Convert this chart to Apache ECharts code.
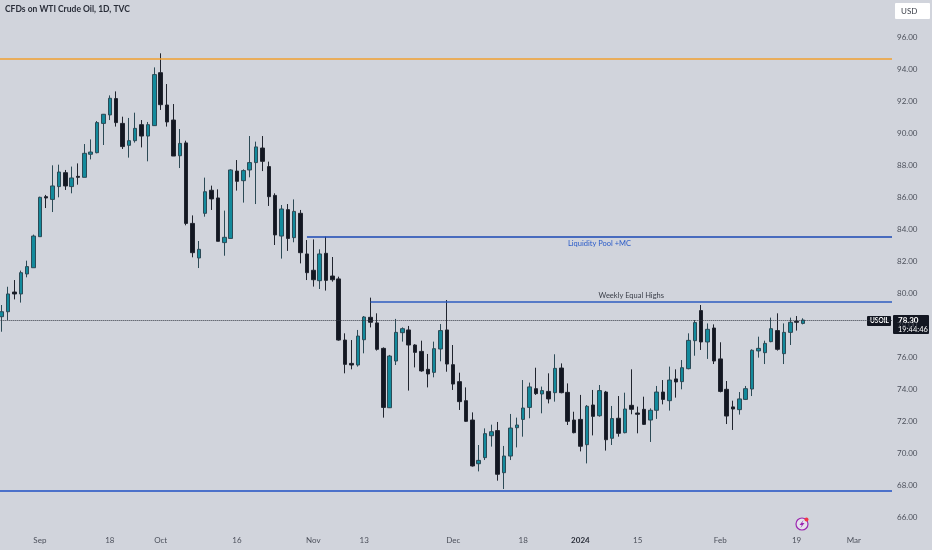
<!DOCTYPE html>
<html>
<head>
<meta charset="utf-8">
<style>html,body{margin:0;padding:0;background:#d1d4dc}#c{width:932px;height:550px}</style>
<script src="https://cdn.jsdelivr.net/npm/echarts@6/dist/echarts.min.js"></script>
</head>
<body>
<div id="c"></div>
<script>
const opens=[78.52,78.83,80.06,79.94,81.19,81.58,83.52,86.02,85.85,86.65,87.52,86.65,87.29,87.23,88.67,88.77,90.60,91.13,92.15,90.60,89.23,89.52,90.52,89.81,90.46,93.77,91.75,90.81,88.58,89.38,84.35,82.19,84.98,86.42,85.94,83.15,83.41,87.62,87.02,87.69,88.15,89.06,87.90,86.10,83.56,85.21,83.46,84.98,82.44,81.42,80.77,82.48,81.06,80.88,77.06,75.60,75.50,77.08,78.48,78.13,76.54,72.83,75.75,77.52,77.69,76.75,76.35,75.23,75.04,76.50,77.69,75.52,74.46,73.27,72.06,69.33,69.71,71.08,71.40,68.77,69.81,71.58,72.10,72.85,74.02,73.69,73.85,73.77,75.31,73.79,72.06,72.10,70.52,73.00,72.33,73.81,70.92,72.17,71.27,72.98,72.50,72.73,72.06,72.67,73.81,73.27,74.63,74.46,75.27,77.02,78.90,76.94,77.81,75.88,73.98,72.88,72.71,73.35,74.00,76.38,76.27,76.96,77.65,76.21,77.54,78.23,78.10];
const closes=[78.83,79.94,79.94,81.27,81.65,83.56,85.98,85.94,86.69,87.56,86.69,87.19,87.23,88.73,88.81,90.65,91.17,92.17,90.65,89.15,89.52,90.29,89.81,90.52,93.65,91.77,90.69,88.56,89.35,84.35,82.52,82.73,86.33,85.88,83.23,83.48,87.69,86.98,87.65,88.15,89.13,88.23,86.02,83.63,85.25,83.41,85.10,82.52,81.27,80.83,82.44,80.79,80.83,77.06,75.54,75.50,77.31,78.50,78.17,76.48,72.85,76.06,77.54,77.77,76.75,76.29,75.13,74.94,76.52,77.65,75.56,74.31,73.21,71.98,69.19,69.54,71.21,71.33,68.67,69.81,71.56,71.75,72.81,74.13,73.71,73.90,73.38,75.29,73.77,71.98,71.27,70.42,72.92,72.29,73.90,70.83,72.15,71.23,72.75,72.73,72.42,71.79,72.67,73.81,73.35,74.56,74.44,75.33,77.04,78.15,76.94,77.73,75.75,73.85,72.31,72.75,73.38,74.02,76.42,76.54,76.85,77.77,76.48,77.54,78.17,78.17,78.31];
const lows=[77.58,78.31,79.60,79.40,80.98,81.58,83.52,85.31,85.06,85.98,86.44,86.23,86.77,87.23,88.35,88.73,89.25,90.81,90.40,89.00,88.46,89.40,89.10,88.23,90.44,91.44,90.40,88.56,87.81,84.23,82.23,81.56,84.77,85.19,83.23,82.33,83.41,86.40,85.65,87.23,85.56,87.62,85.44,83.00,82.15,82.63,83.17,81.85,80.81,80.40,80.25,80.15,80.71,77.02,74.98,75.23,75.40,76.23,77.85,76.40,72.21,72.81,75.50,76.96,73.90,75.35,75.08,74.10,74.73,75.73,75.08,73.94,72.69,71.94,69.15,68.85,69.56,70.40,68.27,67.75,69.56,70.35,71.02,72.17,73.63,72.48,73.10,73.21,73.73,71.75,71.23,70.10,69.35,71.10,72.27,70.15,70.50,71.02,71.23,72.42,71.23,71.75,70.69,72.13,73.04,72.65,73.46,73.98,75.23,76.08,76.44,75.88,75.56,73.79,71.81,71.44,72.40,73.31,73.56,75.96,75.56,76.92,76.40,75.56,76.75,77.65,78.04];
const highs=[79.25,80.39,80.81,81.40,82.02,83.65,86.02,86.13,87.98,88.02,87.69,87.90,88.10,89.31,89.60,90.75,91.19,92.35,92.60,91.02,90.94,91.27,90.81,90.69,94.10,94.98,93.06,91.81,90.25,89.52,84.85,83.25,87.21,86.71,86.48,85.15,87.73,88.31,87.73,89.81,89.46,89.81,88.21,86.23,85.50,85.56,85.85,85.19,83.31,83.35,82.73,83.52,82.25,81.02,77.48,77.06,77.69,78.56,79.71,78.73,76.60,76.13,78.38,77.85,77.94,76.80,77.02,76.19,76.96,78.06,79.56,76.75,75.02,74.10,72.54,70.50,71.54,71.77,71.94,70.44,72.44,72.21,74.56,74.40,75.33,74.15,74.98,76.17,75.60,74.35,72.58,73.63,73.00,73.94,74.25,73.88,72.94,73.56,73.77,75.23,72.90,73.52,72.79,74.19,74.56,75.40,75.23,75.81,77.48,78.31,79.25,78.10,78.04,76.92,74.50,73.27,73.81,74.19,76.48,77.27,77.02,78.46,78.73,78.10,78.46,78.56,78.42];
const xTickSlots=[7,18,26,38,50,58,72,83,92,101,114,126,135];
const xTickLabels=['Sep','18','Oct','16','Nov','13','Dec','18','2024','15','Feb','19','Mar'];
const yMin=66, yMax=96, yStep=2;
const orangeLevel=94.66, lowerLevel=67.66, liquidityLevel=83.53, weeklyLevel=79.47, lastPrice=78.30;
const slotCount=142;

const categories=[];
for(let j=0;j<slotCount;j++){const k=xTickSlots.indexOf(j);categories.push(k>=0?xTickLabels[k]:'');}
const blank=['-','-','-','-'];
const candles=[blank];
for(let i=0;i<opens.length;i++)candles.push([opens[i],closes[i],lows[i],highs[i]]);
while(candles.length<slotCount)candles.push(blank);
const seg=(a,b,v,color,width,type)=>[{coord:[a,v],lineStyle:{color,width,type:type||'solid',opacity:1}},{coord:[b,v]}];
const fnt='Lato,"Open Sans",sans-serif';
const chart=echarts.init(document.getElementById('c'),null,{renderer:'canvas'});
chart.setOption({
  animation:false,backgroundColor:'#d1d4dc',
  grid:{left:-4.66,width:896.66,top:37,bottom:33,containLabel:false,outerBoundsMode:'none'},
  xAxis:{type:'category',data:categories,boundaryGap:false,axisLine:{show:false},axisTick:{show:false},splitLine:{show:false},
    axisLabel:{interval:0,hideOverlap:false,margin:19,fontSize:8,fontFamily:fnt,color:'#4c505b',
      formatter:v=>v==='2024'?'{b|2024}':v,rich:{b:{fontWeight:700,fontSize:8,fontFamily:fnt,color:'#2a2e39'}}}},
  yAxis:{type:'value',position:'right',min:yMin,max:yMax,interval:yStep,axisLine:{show:false},axisTick:{show:false},splitLine:{show:false},
    axisLabel:{margin:5,fontSize:8,fontFamily:fnt,color:'#4c505b',formatter:v=>v.toFixed(2)}},
  series:[{type:'candlestick',data:candles,barWidth:4,clip:true,
    itemStyle:{color:'#138a9c',color0:'#131722',borderColor:'#2c4a56',borderColor0:'#20242e',borderWidth:1},
    markLine:{silent:true,symbol:'none',label:{show:false},animation:false,data:[
      seg(0,slotCount-1,orangeLevel,'#f0a030',1.5),
      seg(0,slotCount-1,lowerLevel,'#1f50c4',1.5),
      seg(49,slotCount-1,liquidityLevel,'#1a48b4',1.5),
      seg(59,slotCount-1,weeklyLevel,'#2c5cc0',1.5),
      seg(0,slotCount-1,lastPrice,'#333842',1,[1,1])
    ]},
    markPoint:{silent:true,symbol:'circle',symbolSize:0,animation:false,data:[
      {coord:[94.9,83.12],value:83.12,label:{show:true,position:'inside',formatter:'Liquidity Pool +MC',fontSize:7.5,fontFamily:fnt,color:'#2a5bc8'}},
      {coord:[100,79.81],value:79.81,label:{show:true,position:'inside',formatter:'Weekly Equal Highs',fontSize:7.5,fontFamily:fnt,color:'#3a3e48'}}
    ]}
  }],
  graphic:[
    {type:'text',left:5,top:5,style:{text:'CFDs on WTI Crude Oil, 1D, TVC',font:'700 8.5px '+fnt,fill:'#2a2e39'}},
    {type:'rect',shape:{x:895,y:3,width:35,height:16,r:1},style:{fill:'#ffffff'}},
    {type:'text',left:901,top:7,style:{text:'USD',font:'8px '+fnt,fill:'#3a3e48'}},
    {type:'rect',shape:{x:867,y:316,width:24,height:10,r:1},style:{fill:'#131722'}},
    {type:'text',left:870,top:317,style:{text:'USOIL',font:'700 6.5px '+fnt,fill:'#ffffff'}},
    {type:'rect',shape:{x:893,y:315,width:36,height:19,r:1},style:{fill:'#131722'}},
    {type:'text',left:898,top:316,style:{text:'78.30',font:'700 8px '+fnt,fill:'#ffffff'}},
    {type:'text',left:898,top:326,style:{text:'19:44:46',font:'7.5px '+fnt,fill:'#ffffff'}},
    {type:'circle',shape:{cx:802,cy:524,r:6},style:{fill:'#e4e1ec',stroke:'#9c27b0',lineWidth:1.2}},
    {type:'polygon',shape:{points:[[803.5,520],[799.5,525],[801.8,525],[800.5,528],[804.5,523],[802.2,523]]},style:{fill:'#9c27b0'}},
    {type:'circle',shape:{cx:806.5,cy:519.5,r:2},style:{fill:'#f23645'}}
  ]
});
</script>
</body>
</html>
